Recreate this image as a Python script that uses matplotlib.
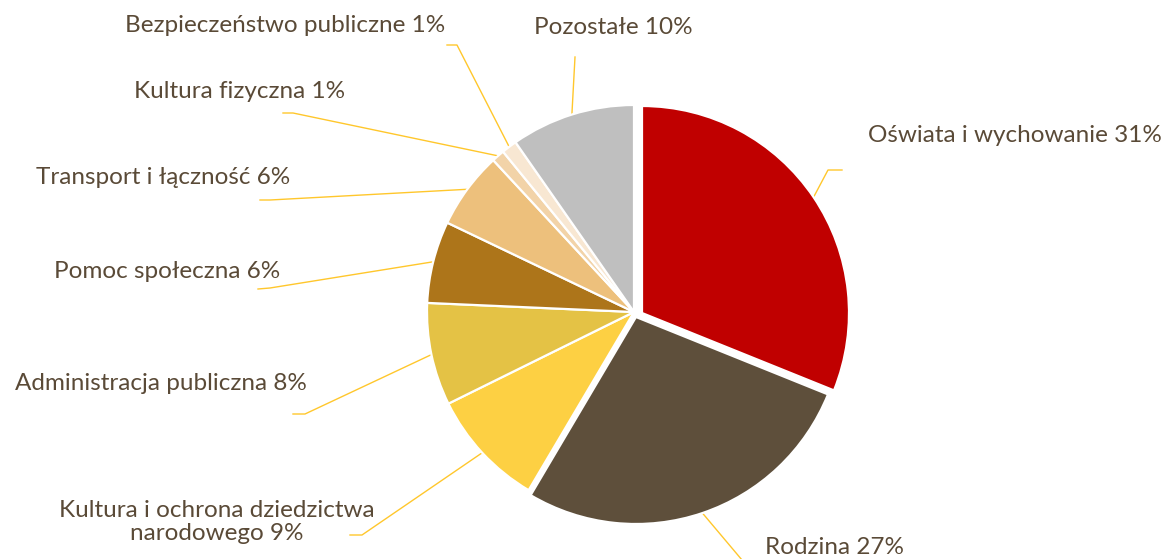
import matplotlib.pyplot as plt
import numpy as np

# data
categories = ["Oświata i wychowanie", "Rodzina", "Kultura i ochrona dziedzictwa\nnarodowego",
              "Administracja publiczna", "Pomoc społeczna", "Transport i łączność",
              "Kultura fizyczna", "Bezpieczeństwo publiczne", "Pozostałe"]
shares = [31.1, 27.4, 9.2, 8.0, 6.4, 6.0, 1.0, 1.2, 9.7]
colors = ["#C00000", "#5E4F3B", "#FDD043", "#E4C245", "#AD751A",
          "#EDC07C", "#F2D3A8", "#F8E7D2", "#BFBFBF"]

W, H = 1168, 559
CX, CY, R = 634, 312, 207   # pie centre / radius in pixels (y from top)
# pulled-out slices, pixel shift (x right, y down) like excel does it
shift = [(8, 1), (2, 5), (0, 0), (0, 0), (0, 0), (0, 0), (0, 0), (0, 0), (0, 0)]
text_color = "#5A4A37"
line_color = "#FFC72C"

fig = plt.figure(figsize=(W / 100, H / 100), dpi=100)
ax = fig.add_axes([0, 0, 1, 1])

wedges, _ = ax.pie(shares, center=(CX, H - CY), radius=R, startangle=90,
                   counterclock=False, colors=colors,
                   wedgeprops=dict(edgecolor="white", linewidth=1.6))
for w, (dx, dy) in zip(wedges, shift):
    w.set_center((CX + dx, H - CY - dy))
ax.set_xlim(0, W)
ax.set_ylim(0, H)
ax.set_aspect("equal")
ax.axis("off")

# label layout: (text x, text y, ha, leader elbow, leader end) in pixels from top-left
layout = [
    (868, 135, "left", (828, 170), (842, 170)),
    (765, 548, "left", (742, 560), (742, 560)),
    (217, 522, "center", (362, 535), (350, 535)),
    (307, 383, "right", (305, 414), (293, 414)),
    (280, 271, "right", (270, 288), (258, 289)),
    (290, 178, "right", (270, 200), (260, 200)),
    (345, 92, "right", (293, 113), (283, 113)),
    (445, 25, "right", (457, 45), (447, 45)),
    (613, 27, "center", (575, 57), (575, 57)),
]

for w, name, val, (tx, ty, ha, elbow, end) in zip(wedges, categories, shares, layout):
    mid = np.deg2rad((w.theta1 + w.theta2) / 2)
    sx = w.center[0] + w.r * np.cos(mid)
    sy = w.center[1] + w.r * np.sin(mid)
    xs = [sx, elbow[0], end[0]]
    ys = [sy, H - elbow[1], H - end[1]]
    ax.plot(xs, ys, color=line_color, lw=1.0, zorder=0, clip_on=False)
    ax.text(tx, H - ty, f"{name} {round(val)}%", ha=ha, va="center",
            fontsize=17.5, color=text_color, family="Lato",
            multialignment="center", linespacing=1.15)

plt.savefig("out.png", dpi=100)
